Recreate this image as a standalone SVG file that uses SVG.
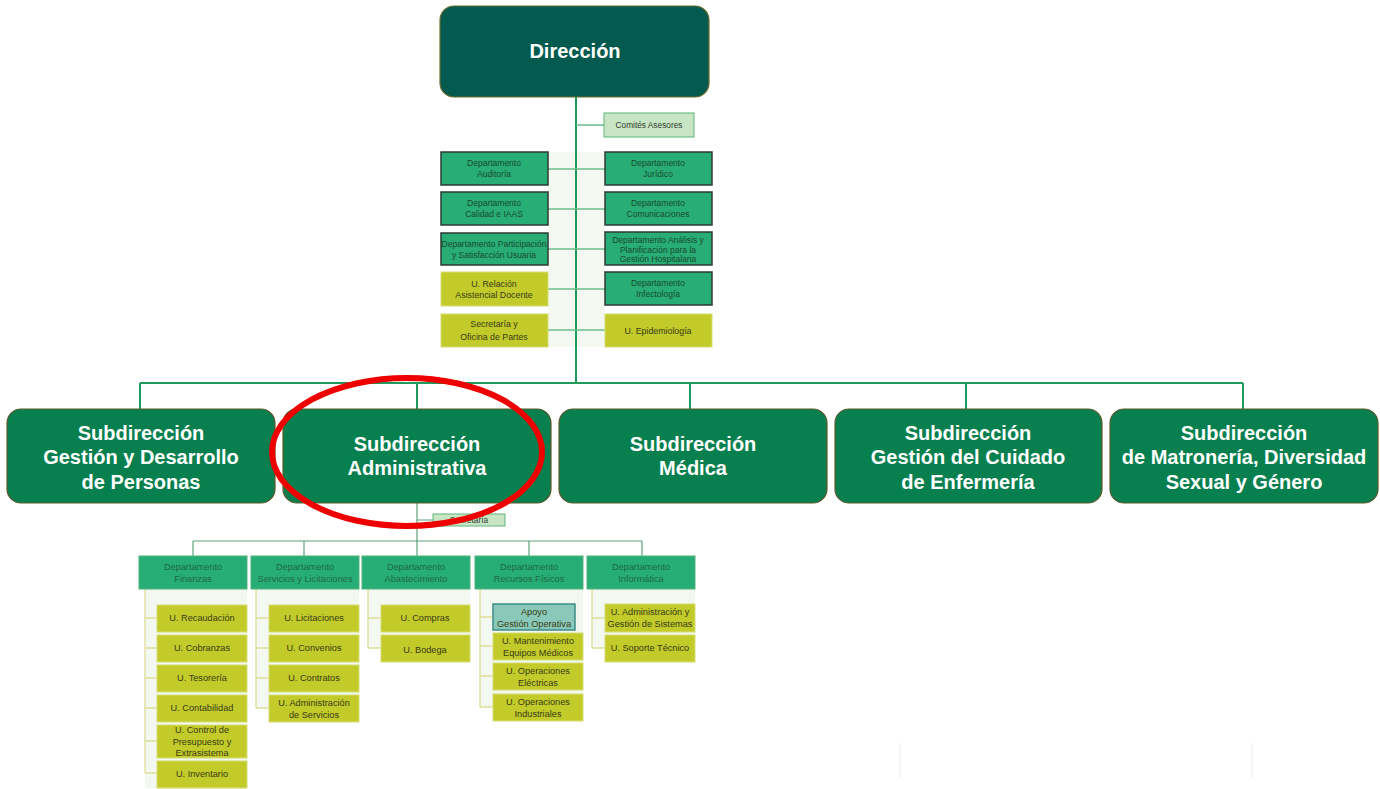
<svg xmlns="http://www.w3.org/2000/svg" width="1380" height="789" viewBox="0 0 1380 789">
  <style>
    text { font-family: "Liberation Sans", Arial, sans-serif; text-anchor: middle; }
    .top { fill: #035a4e; stroke: #6b6b2a; stroke-width: 1.2; }
    .top-t { fill: #ffffff; font-size: 20px; font-weight: bold; }
    .sub { fill: #087f4f; stroke: #5c5a2e; stroke-width: 1.2; }
    .sub-t { fill: #ffffff; font-size: 20px; font-weight: bold; }
    .dep { fill: #27ad75; stroke: #2f3a33; stroke-width: 1.5; }
    .dep2 { fill: #27ad76; stroke: #55b37c; stroke-width: 1; }
    .dep-t { fill: #1a4a30; font-size: 8.5px; }
    .dep2-t { fill: #1f6a44; font-size: 9.2px; }
    .uni { fill: #c2cb2a; stroke: #d8dc73; stroke-width: 1; }
    .uni-t { fill: #3a3a14; font-size: 8.8px; }
    .unib-t { fill: #3a3a14; font-size: 9.2px; }
    .pale { fill: #c8e6c4; stroke: #5cb57a; stroke-width: 1; }
    .pale-t { fill: #2e3b2e; font-size: 8.3px; }
    .apoyo { fill: #8ac9b9; stroke: #3d8d87; stroke-width: 1.5; }
    .panel { fill: #f3f8f0; }
    .ln { stroke: #1f9a5e; stroke-width: 2; fill: none; }
    .ln2 { stroke: #6dbb8a; stroke-width: 1.3; fill: none; }
    .ln3 { stroke: #5fa07a; stroke-width: 1.2; fill: none; }
    .yl { stroke: #dedd98; stroke-width: 1.3; fill: none; }
  </style>

  <rect width="1380" height="789" fill="#ffffff"/>

  <!-- background panels -->
  <g id="panels">
    <rect class="panel" x="548" y="152" width="57" height="195"/>
    <rect class="panel" x="145" y="589" width="102" height="199"/>
    <rect class="panel" x="256" y="589" width="103" height="119"/>
    <rect class="panel" x="368" y="589" width="102" height="60"/>
    <rect class="panel" x="480" y="589" width="103" height="118"/>
    <rect class="panel" x="592" y="589" width="103" height="60"/>
  </g>

  <!-- connectors -->
  <g id="connectors">
    <path class="ln" d="M576 97 V383 M140 383 H1243 M140 383 V409 M417 383 V409 M690 383 V409 M966 383 V409 M1243 383 V409"/>
    <path class="ln2" d="M576 125 H604 M548 169 H605 M548 209 H605 M548 249 H605 M548 289 H605 M548 330 H605"/>
    <path class="ln3" d="M417 503 V541 M417 520 H433 M193 541 H642 M193 541 V556 M304 541 V556 M417 541 V556 M529 541 V556 M642 541 V556"/>
    <path class="yl" d="M145 589 V773 M145 618 H157 M145 648 H157 M145 678 H157 M145 708 H157 M145 741 H157 M145 773 H157"/>
    <path class="yl" d="M256 589 V708 M256 618 H269 M256 648 H269 M256 678 H269 M256 708 H269"/>
    <path class="yl" d="M368 589 V648 M368 618 H381 M368 648 H381"/>
    <path class="yl" d="M480 589 V707 M480 617 H493 M480 646 H493 M480 676 H493 M480 707 H493"/>
    <path class="yl" d="M592 589 V648 M592 618 H605 M592 648 H605"/>
    <path d="M900 743 V778 M1252 743 V778" stroke="#eef6ea" stroke-width="1.5"/>
  </g>

  <g id="direccion">
    <rect class="top" x="440" y="6" width="269" height="91" rx="14"/>
    <text class="top-t" x="575" y="58">Dirección</text>
  </g>

  <g id="comites">
    <rect class="pale" x="604" y="113" width="90" height="24"/>
    <text class="pale-t" x="649" y="128">Comités Asesores</text>
  </g>

  <g id="dep-auditoria">
    <rect class="dep" x="441" y="152" width="107" height="33"/>
    <text class="dep-t" x="494" y="166">Departamento</text>
    <text class="dep-t" x="494" y="177">Auditoría</text>
  </g>
  <g id="dep-calidad">
    <rect class="dep" x="441" y="192" width="107" height="33"/>
    <text class="dep-t" x="494" y="206">Departamento</text>
    <text class="dep-t" x="494" y="217">Calidad e IAAS</text>
  </g>
  <g id="dep-participacion">
    <rect class="dep" x="441" y="233" width="107" height="32"/>
    <text class="dep-t" x="494" y="247">Departamento Participación</text>
    <text class="dep-t" x="494" y="258">y Satisfacción Usuaria</text>
  </g>
  <g id="u-relacion">
    <rect class="uni" x="441" y="272" width="107" height="34"/>
    <text class="uni-t" x="494" y="287">U. Relación</text>
    <text class="uni-t" x="494" y="298">Asistencial Docente</text>
  </g>
  <g id="secretaria-partes">
    <rect class="uni" x="441" y="314" width="107" height="33"/>
    <text class="uni-t" x="494" y="327">Secretaría y</text>
    <text class="uni-t" x="494" y="340">Oficina de Partes</text>
  </g>

  <g id="dep-juridico">
    <rect class="dep" x="605" y="152" width="107" height="33"/>
    <text class="dep-t" x="658" y="166">Departamento</text>
    <text class="dep-t" x="658" y="177">Jurídico</text>
  </g>
  <g id="dep-comunicaciones">
    <rect class="dep" x="605" y="192" width="107" height="33"/>
    <text class="dep-t" x="658" y="206">Departamento</text>
    <text class="dep-t" x="658" y="217">Comunicaciones</text>
  </g>
  <g id="dep-analisis">
    <rect class="dep" x="605" y="232" width="107" height="33"/>
    <text class="dep-t" x="658" y="243">Departamento Análisis y</text>
    <text class="dep-t" x="658" y="252.5">Planificación para la</text>
    <text class="dep-t" x="658" y="262">Gestión Hospitalaria</text>
  </g>
  <g id="dep-infectologia">
    <rect class="dep" x="605" y="272" width="107" height="33"/>
    <text class="dep-t" x="658" y="286">Departamento</text>
    <text class="dep-t" x="658" y="297">Infectología</text>
  </g>
  <g id="u-epidemiologia">
    <rect class="uni" x="605" y="314" width="107" height="33"/>
    <text class="uni-t" x="658" y="334">U. Epidemiología</text>
  </g>

  <g id="sub-personas">
    <rect class="sub" x="7" y="409" width="268" height="94" rx="14"/>
    <text class="sub-t" x="141" y="440">Subdirección</text>
    <text class="sub-t" x="141" y="464">Gestión y Desarrollo</text>
    <text class="sub-t" x="141" y="489">de Personas</text>
  </g>
  <g id="sub-administrativa">
    <rect class="sub" x="283" y="409" width="268" height="94" rx="14"/>
    <text class="sub-t" x="417" y="451">Subdirección</text>
    <text class="sub-t" x="417" y="475">Administrativa</text>
  </g>
  <g id="sub-medica">
    <rect class="sub" x="559" y="409" width="268" height="94" rx="14"/>
    <text class="sub-t" x="693" y="451">Subdirección</text>
    <text class="sub-t" x="693" y="475">Médica</text>
  </g>
  <g id="sub-enfermeria">
    <rect class="sub" x="835" y="409" width="267" height="94" rx="14"/>
    <text class="sub-t" x="968" y="440">Subdirección</text>
    <text class="sub-t" x="968" y="464">Gestión del Cuidado</text>
    <text class="sub-t" x="968" y="489">de Enfermería</text>
  </g>
  <g id="sub-matroneria">
    <rect class="sub" x="1110" y="409" width="268" height="94" rx="14"/>
    <text class="sub-t" x="1244" y="440">Subdirección</text>
    <text class="sub-t" x="1244" y="464">de Matronería, Diversidad</text>
    <text class="sub-t" x="1244" y="489">Sexual y Género</text>
  </g>

  <g id="secretaria-adm">
    <rect class="pale" x="433" y="514" width="72" height="12"/>
    <text class="pale-t" x="469" y="523">Secretaría</text>
  </g>

  <g id="dep-finanzas">
    <rect class="dep2" x="139" y="556" width="108" height="33"/>
    <text class="dep2-t" x="193" y="570">Departamento</text>
    <text class="dep2-t" x="193" y="582">Finanzas</text>
  </g>
  <g id="dep-servicios">
    <rect class="dep2" x="251" y="556" width="108" height="33"/>
    <text class="dep2-t" x="305" y="570">Departamento</text>
    <text class="dep2-t" x="305" y="582">Servicios  y Licitaciones</text>
  </g>
  <g id="dep-abastecimiento">
    <rect class="dep2" x="362" y="556" width="108" height="33"/>
    <text class="dep2-t" x="416" y="570">Departamento</text>
    <text class="dep2-t" x="416" y="582">Abastecimiento</text>
  </g>
  <g id="dep-fisicos">
    <rect class="dep2" x="475" y="556" width="108" height="33"/>
    <text class="dep2-t" x="529" y="570">Departamento</text>
    <text class="dep2-t" x="529" y="582">Recursos  Físicos</text>
  </g>
  <g id="dep-informatica">
    <rect class="dep2" x="587" y="556" width="108" height="33"/>
    <text class="dep2-t" x="641" y="570">Departamento</text>
    <text class="dep2-t" x="641" y="582">Informática</text>
  </g>

  <g id="u-recaudacion"><rect class="uni" x="157" y="605" width="90" height="27"/><text class="unib-t" x="202" y="621">U. Recaudación</text></g>
  <g id="u-cobranzas"><rect class="uni" x="157" y="635" width="90" height="27"/><text class="unib-t" x="202" y="651">U. Cobranzas</text></g>
  <g id="u-tesoreria"><rect class="uni" x="157" y="665" width="90" height="27"/><text class="unib-t" x="202" y="681">U. Tesorería</text></g>
  <g id="u-contabilidad"><rect class="uni" x="157" y="695" width="90" height="27"/><text class="unib-t" x="202" y="711">U. Contabilidad</text></g>
  <g id="u-presupuesto">
    <rect class="uni" x="157" y="725" width="90" height="33"/>
    <text class="unib-t" x="202" y="733">U. Control de</text>
    <text class="unib-t" x="202" y="744.5">Presupuesto y</text>
    <text class="unib-t" x="202" y="756">Extrasistema</text>
  </g>
  <g id="u-inventario"><rect class="uni" x="157" y="761" width="90" height="27"/><text class="unib-t" x="202" y="777">U. Inventario</text></g>

  <g id="u-licitaciones"><rect class="uni" x="269" y="605" width="90" height="27"/><text class="unib-t" x="314" y="621">U. Licitaciones</text></g>
  <g id="u-convenios"><rect class="uni" x="269" y="635" width="90" height="27"/><text class="unib-t" x="314" y="651">U. Convenios</text></g>
  <g id="u-contratos"><rect class="uni" x="269" y="665" width="90" height="27"/><text class="unib-t" x="314" y="681">U. Contratos</text></g>
  <g id="u-adm-servicios">
    <rect class="uni" x="269" y="695" width="90" height="27"/>
    <text class="unib-t" x="314" y="706">U. Administración</text>
    <text class="unib-t" x="314" y="718">de Servicios</text>
  </g>

  <g id="u-compras"><rect class="uni" x="381" y="605" width="89" height="27"/><text class="unib-t" x="425" y="621">U. Compras</text></g>
  <g id="u-bodega"><rect class="uni" x="381" y="635" width="89" height="27"/><text class="unib-t" x="425" y="653">U. Bodega</text></g>

  <g id="apoyo-gestion">
    <rect class="apoyo" x="493" y="604" width="82" height="26"/>
    <text class="unib-t" x="534" y="615">Apoyo</text>
    <text class="unib-t" x="534" y="627">Gestión Operativa</text>
  </g>
  <g id="u-mantenimiento">
    <rect class="uni" x="493" y="633" width="90" height="27"/>
    <text class="unib-t" x="538" y="644">U. Mantenimiento</text>
    <text class="unib-t" x="538" y="656">Equipos Médicos</text>
  </g>
  <g id="u-electricas">
    <rect class="uni" x="493" y="663" width="90" height="27"/>
    <text class="unib-t" x="538" y="674">U. Operaciones</text>
    <text class="unib-t" x="538" y="686">Eléctricas</text>
  </g>
  <g id="u-industriales">
    <rect class="uni" x="493" y="694" width="90" height="27"/>
    <text class="unib-t" x="538" y="705">U. Operaciones</text>
    <text class="unib-t" x="538" y="717">Industriales</text>
  </g>

  <g id="u-sistemas">
    <rect class="uni" x="605" y="604" width="90" height="28"/>
    <text class="unib-t" x="650" y="615">U. Administración y</text>
    <text class="unib-t" x="650" y="627">Gestión de Sistemas</text>
  </g>
  <g id="u-soporte"><rect class="uni" x="605" y="635" width="90" height="27"/><text class="unib-t" x="650" y="651">U. Soporte  Técnico</text></g>

  <!-- highlight ring -->
  <ellipse id="highlight" cx="407" cy="452" rx="135" ry="74" fill="none" stroke="#ee0000" stroke-width="6"/>
</svg>
